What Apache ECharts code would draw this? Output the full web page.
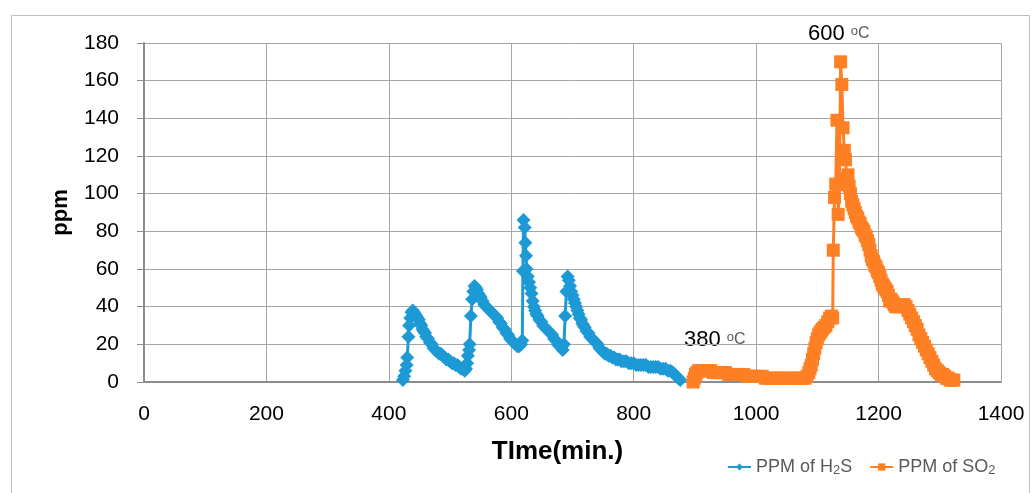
<!DOCTYPE html>
<html>
<head>
<meta charset="utf-8">
<script src="https://cdn.jsdelivr.net/npm/echarts@6/dist/echarts.min.js"></script>
<style>
  html, body { margin: 0; padding: 0; background: #ffffff; }
  #chart { width: 1035px; height: 493px; }
</style>
</head>
<body>
<div id="chart"></div>
<script>
// Time axis ticks (min.) and ppm axis ticks
const xTicks = [0, 200, 400, 600, 800, 1000, 1200, 1400];
const yTicks = [0, 20, 40, 60, 80, 100, 120, 140, 160, 180];

// H2S concentration readings: [time (min.), ppm]
const h2sData = [
  [423,1],[425,3],[427,6],[429,9],[430,13],[432,24],[433,30],[435,34],[437,37],[439,38],
  [441,37],[443,36],[445,35],[447,34],[449,33],[451,31],[453,30],[455,28],[457,27],[459,26],
  [461,24],[464,23],[467,21],[470,20],[473,18],[476,17],[479,16],[482,15],[485,15],[488,14],
  [491,13],[494,12],[497,12],[500,11],[503,10],[506,10],[509,9],[512,9],[515,8],[518,7],
  [521,7],[524,6],[526,7],[528,10],[529,14],[531,17],[532,20],[534,35],[536,44],[538,48],
  [540,51],[542,50],[544,49],[546,47],[548,46],[550,45],[553,43],[556,41],[559,40],[562,39],
  [565,38],[568,37],[571,36],[574,35],[577,34],[580,32],[583,31],[586,29],[589,28],[592,26],
  [595,25],[598,23],[601,22],[604,21],[607,20],[610,19],[613,19],[616,20],[618,22],[619,59],
  [620,86],[622,82],[623,74],[624,67],[625,60],[627,56],[629,53],[631,50],[633,47],[635,43],
  [637,40],[639,38],[641,36],[643,35],[646,33],[649,32],[652,30],[655,29],[658,28],[661,27],
  [664,26],[667,25],[670,23],[673,22],[676,20],[679,19],[682,18],[684,17],[686,20],[688,35],
  [690,48],[692,56],[694,54],[696,51],[698,48],[700,46],[702,44],[704,42],[706,40],[708,38],
  [710,36],[712,34],[714,33],[716,31],[718,30],[720,29],[723,27],[726,26],[729,24],[732,23],
  [735,22],[738,21],[741,20],[744,18],[747,17],[750,16],[753,15],[756,15],[759,14],[762,14],
  [765,13],[768,13],[771,12],[774,12],[777,12],[780,11],[784,11],[788,11],[792,10],[796,10],
  [800,10],[804,9],[808,9],[812,9],[816,9],[820,9],[824,8],[828,8],[832,8],[836,8],
  [840,8],[844,7],[848,7],[852,7],[856,6],[860,6],[864,5],[867,4],[870,3],[873,2],[876,1]
];

// SO2 concentration readings: [time (min.), ppm]
const so2Data = [
  [897,0],[899,2],[901,4],[903,5],[906,6],[910,6],[914,6],[918,6],[922,6],[926,6],
  [930,5],[935,5],[940,5],[945,5],[950,5],[955,4],[960,4],[965,4],[970,4],[975,4],
  [980,4],[985,3],[990,3],[995,3],[1000,3],[1005,3],[1010,3],[1015,2],[1020,2],[1025,2],
  [1030,2],[1035,2],[1040,2],[1045,2],[1050,2],[1055,2],[1060,2],[1065,2],[1070,2],[1075,2],
  [1080,2],[1083,3],[1086,5],[1088,7],[1090,9],[1092,12],[1094,15],[1096,18],[1098,21],[1100,23],
  [1102,25],[1104,26],[1106,27],[1108,28],[1111,29],[1114,30],[1117,32],[1120,34],[1123,35],[1125,34],
  [1126,70],[1128,98],[1130,105],[1132,139],[1134,89],[1136,105],[1138,170],[1140,158],[1142,135],[1144,123],
  [1146,118],[1148,108],[1150,110],[1152,104],[1154,100],[1156,96],[1158,94],[1160,92],[1162,90],[1164,88],
  [1166,87],[1168,85],[1170,84],[1172,82],[1174,81],[1176,80],[1178,78],[1180,77],[1182,75],[1184,73],
  [1186,70],[1188,67],[1190,65],[1192,64],[1194,62],[1196,61],[1198,59],[1200,58],[1202,56],[1204,54],
  [1206,52],[1208,51],[1210,50],[1212,49],[1214,48],[1216,46],[1218,43],[1220,44],[1222,43],[1224,42],
  [1226,41],[1228,40],[1230,40],[1233,40],[1236,40],[1239,41],[1242,41],[1245,40],[1248,38],[1251,36],
  [1254,34],[1257,32],[1260,30],[1263,28],[1266,25],[1269,23],[1272,21],[1275,19],[1278,17],[1281,15],
  [1284,13],[1287,11],[1290,9],[1293,7],[1296,6],[1299,5],[1302,4],[1305,4],[1308,3],[1311,2],
  [1314,2],[1317,1],[1320,1],[1323,1]
];

const seriesNames = ['PPM of H2S', 'PPM of SO2'];
const colors = ['#1D9AD6', '#FF8024'];

const chart = echarts.init(document.getElementById('chart'), null, { renderer: 'canvas' });

const labelFont = 'Liberation Sans, Arial, sans-serif';

// temperature marks: large black number, small grey raised "o" and "C"
const tempLabelRich = {
  n: { fontFamily: labelFont, fontSize: 22, fill: '#000' },
  o: { fontFamily: labelFont, fontSize: 13, fill: '#595959', padding: [0, 0, 5, 0] },
  c: { fontFamily: labelFont, fontSize: 16, fill: '#595959' }
};

chart.setOption({
  animation: false,
  backgroundColor: '#ffffff',
  grid: { left: 144, right: 34, top: 43, bottom: 111, containLabel: false },
  xAxis: {
    type: 'value',
    min: xTicks[0], max: xTicks[xTicks.length - 1], interval: 200,
    name: 'TIme(min.)',
    nameLocation: 'middle',
    nameGap: 57,
    nameTextStyle: { fontFamily: labelFont, fontSize: 26, fontWeight: 'bold', color: '#000', padding: [0, 30, 0, 0] },
    axisLine: { show: true, lineStyle: { color: '#8c8c8c', width: 2 } },
    axisTick: { show: false },
    axisLabel: { fontFamily: labelFont, fontSize: 21, color: '#000', margin: 22, formatter: v => String(v) },
    splitLine: { show: true, lineStyle: { color: '#a6a6a6', width: 1 } }
  },
  yAxis: {
    type: 'value',
    min: yTicks[0], max: yTicks[yTicks.length - 1], interval: 20,
    name: 'ppm',
    nameLocation: 'middle',
    nameGap: 72,
    nameTextStyle: { fontFamily: labelFont, fontSize: 22, fontWeight: 'bold', color: '#000' },
    axisLine: { show: true, lineStyle: { color: '#8c8c8c', width: 2 } },
    axisTick: { show: true, inside: false, length: 7, lineStyle: { color: '#8c8c8c', width: 1 } },
    axisLabel: { fontFamily: labelFont, fontSize: 21, color: '#000', margin: 25, formatter: v => String(v) },
    splitLine: { show: true, lineStyle: { color: '#a6a6a6', width: 1 } }
  },
  legend: {
    data: seriesNames,
    left: 722, top: 453,
    itemWidth: 23, itemHeight: 9, itemGap: 17,
    formatter: function (name) {
      return name === 'PPM of H2S' ? '{a|PPM of H}{s|2}{a|S}' : '{a|PPM of SO}{s|2}';
    },
    textStyle: {
      color: '#595959', fontFamily: labelFont, fontSize: 18,
      rich: {
        a: { color: '#595959', fontFamily: labelFont, fontSize: 18 },
        s: { color: '#595959', fontFamily: labelFont, fontSize: 13, padding: [7, 0, 0, 0] }
      }
    }
  },
  graphic: [
    {
      type: 'rect', silent: true, z: -10,
      shape: { x: 11.5, y: 15.5, width: 1018, height: 495 },
      style: { fill: 'none', stroke: '#bfbfbf', lineWidth: 1 }
    },
    {
      type: 'text', left: 684, top: 329, silent: true,
      style: { text: '{n|380 }{o|o}{c|C}', rich: tempLabelRich }
    },
    {
      type: 'text', left: 808, top: 23, silent: true,
      style: { text: '{n|600 }{o|o}{c|C}', rich: tempLabelRich }
    }
  ],
  series: [
    {
      name: seriesNames[0],
      type: 'line',
      data: h2sData,
      symbol: 'diamond',
      symbolSize: 14,
      showAllSymbol: true,
      lineStyle: { color: colors[0], width: 3 },
      itemStyle: { color: colors[0] }
    },
    {
      name: seriesNames[1],
      type: 'line',
      data: so2Data,
      symbol: 'rect',
      symbolSize: 13,
      showAllSymbol: true,
      lineStyle: { color: colors[1], width: 3 },
      itemStyle: { color: colors[1] }
    }
  ]
});
</script>
</body>
</html>
